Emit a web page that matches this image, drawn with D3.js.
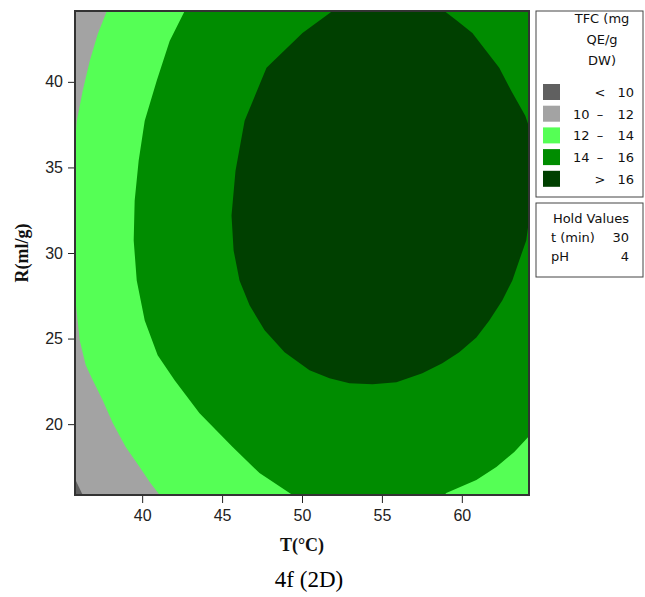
<!DOCTYPE html>
<svg width="645" height="597"></svg>
<style>
  body { margin: 0; background: #fff; }
  svg { display: block; font-family: "DejaVu Sans", sans-serif; }
  .tick text { font-size: 16px; fill: #222; }
  .tick line { stroke: #222; }
  .ttl { font-family: "Liberation Serif", serif; font-weight: bold; fill: #111; }
  .leg { font-size: 13px; fill: #111; }
</style>
<script src="https://d3js.org/d3.v7.min.js"></script>
<script>

// axis ranges and ticks
var tDomain = [35.86, 64.14],
    rDomain = [15.86, 44.14],
    tTicks = [40, 45, 50, 55, 60],
    rTicks = [20, 25, 30, 35, 40];

// contour boundaries [T, R] (each closes on itself)
var above12 = [[37.79,44.14],[37.22,42.80],[36.72,41.22],[36.28,39.48],[35.91,37.73],[35.86,37.14],
  [35.86,26.94],[36.09,24.90],[36.47,23.44],[36.91,22.57],[37.53,21.40],[38.16,20.06],[38.97,18.66],
  [39.84,17.49],[40.47,16.62],[41.09,15.86],[64.14,15.86],[64.14,44.14]];
var above14 = [[42.66,44.14],[41.72,42.39],[40.91,40.06],[40.16,37.73],[39.78,35.39],[39.53,33.06],
  [39.47,30.73],[39.66,28.40],[40.16,26.06],[40.97,24.02],[42.03,22.57],[43.59,20.64],[45.66,18.66],
  [47.34,17.14],[49.41,15.86],[58.91,15.86],[59.03,15.97],[60.91,16.73],[62.16,17.49],[63.28,18.37],
  [64.14,19.24],[64.14,44.14]];
var above16 = [[51.91,44.14],[50.03,42.86],[47.78,40.82],[46.41,37.73],[45.84,34.81],[45.59,32.19],
  [45.72,30.15],[46.09,28.40],[46.72,26.94],[47.66,25.48],[48.91,24.20],[50.47,23.15],[51.72,22.68],
  [52.97,22.39],[54.41,22.33],[55.91,22.45],[57.53,22.97],[58.78,23.56],[59.84,24.20],[60.91,25.07],
  [61.72,26.06],[62.53,27.23],[63.16,28.40],[63.59,29.56],[64.03,30.73],[64.14,31.49],[64.14,37.55],
  [63.97,38.02],[63.09,39.48],[62.34,40.82],[61.53,41.81],[60.66,42.86],[59.72,43.56],[58.91,44.14]];
var below10 = [[35.86,16.68],[35.86,15.86],[36.28,15.86]];

// legend
var legLabels = [["", "<", "10"], ["10", "\u2013", "12"], ["12", "\u2013", "14"], ["14", "\u2013", "16"], ["", ">", "16"]];
var legColors = ["#606060", "#a3a3a3", "#55ff55", "#008c00", "#004000"];
var holdNames = ["t (min)", "pH"],
    holdValues = [30, 4];

var svg = d3.select("svg");

var x = d3.scaleLinear().domain(tDomain).range([76, 528]);
var y = d3.scaleLinear().domain(rDomain).range([495, 11]);

svg.append("clipPath").attr("id", "plot")
  .append("rect").attr("x", 76).attr("y", 11).attr("width", 452).attr("height", 484);

var area = svg.append("g").attr("clip-path", "url(#plot)");

var line = d3.line()
    .x(function(d) { return x(d[0]); })
    .y(function(d) { return y(d[1]); });

// 10-12 band fills the whole plot, the others go on top
area.append("rect")
    .attr("x", x(tDomain[0])).attr("y", y(rDomain[1]))
    .attr("width", x(tDomain[1]) - x(tDomain[0]))
    .attr("height", y(rDomain[0]) - y(rDomain[1]))
    .attr("fill", legColors[1]);

[[above12, legColors[2]], [above14, legColors[3]], [above16, legColors[4]], [below10, legColors[0]]]
  .forEach(function(p) {
    area.append("path").attr("d", line(p[0]) + "Z").attr("fill", p[1]);
  });

// frame
svg.append("rect")
    .attr("x", 75).attr("y", 11).attr("width", 454).attr("height", 484)
    .attr("fill", "none").attr("stroke", "#333").attr("stroke-width", 2);

// axes
var xa = svg.append("g").attr("transform", "translate(0,496)")
    .call(d3.axisBottom(x).tickValues(tTicks).tickSize(7).tickPadding(7));
xa.select(".domain").remove();

var ya = svg.append("g").attr("transform", "translate(74,0)")
    .call(d3.axisLeft(y).tickValues(rTicks).tickSize(6).tickPadding(5));
ya.select(".domain").remove();

// titles
svg.append("text").attr("class", "ttl")
    .attr("x", 302).attr("y", 551)
    .attr("text-anchor", "middle").style("font-size", "18px")
    .text("T(\u00b0C)");

svg.append("text").attr("class", "ttl")
    .attr("transform", "translate(28,253) rotate(-90)")
    .attr("text-anchor", "middle").style("font-size", "18px")
    .text("R(ml/g)");

svg.append("text")
    .attr("x", 309).attr("y", 587)
    .attr("text-anchor", "middle")
    .style("font-family", "'Liberation Serif', serif").style("font-size", "23px")
    .text("4f (2D)");

// legend box
svg.append("rect").attr("x", 536).attr("y", 11).attr("width", 107).attr("height", 186)
    .attr("fill", "#fff").attr("stroke", "#444");

["TFC (mg", "QE/g", "DW)"].forEach(function(t, i) {
  svg.append("text").attr("class", "leg")
      .attr("x", 602).attr("y", 23 + i * 21)
      .attr("text-anchor", "middle").text(t);
});

legLabels.forEach(function(l, i) {
  var cy = 92 + i * 21.7;
  svg.append("rect").attr("x", 543).attr("y", cy - 8).attr("width", 17).attr("height", 16)
      .attr("fill", legColors[i]);
  svg.append("text").attr("class", "leg").attr("x", 573).attr("y", cy + 5).text(l[0]);
  svg.append("text").attr("class", "leg").attr("x", 600).attr("y", cy + 5)
      .attr("text-anchor", "middle").text(l[1]);
  svg.append("text").attr("class", "leg").attr("x", 634).attr("y", cy + 5)
      .attr("text-anchor", "end").text(l[2]);
});

// hold values box
svg.append("rect").attr("x", 536).attr("y", 203).attr("width", 107).attr("height", 74)
    .attr("fill", "#fff").attr("stroke", "#444");

svg.append("text").attr("class", "leg").attr("x", 591).attr("y", 223)
    .attr("text-anchor", "middle").text("Hold Values");

holdNames.forEach(function(n, i) {
  svg.append("text").attr("class", "leg").attr("x", 551).attr("y", 242 + i * 19).text(n);
  svg.append("text").attr("class", "leg").attr("x", 629).attr("y", 242 + i * 19)
      .attr("text-anchor", "end").text(holdValues[i]);
});

</script>
